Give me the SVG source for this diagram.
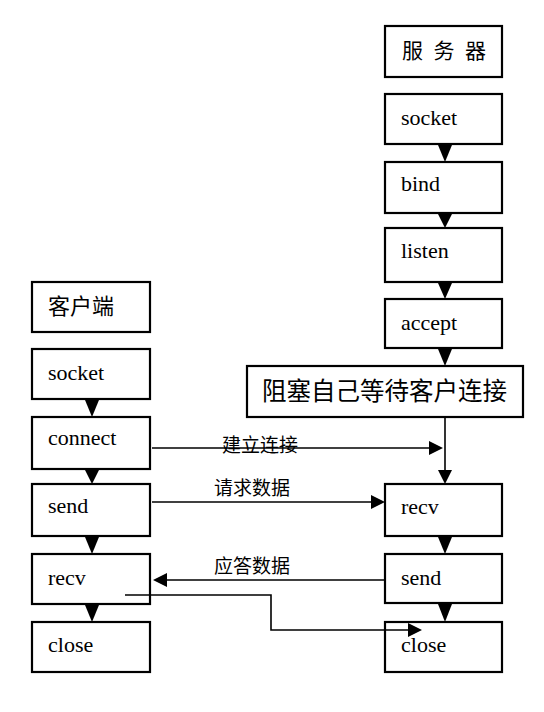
<svg xmlns="http://www.w3.org/2000/svg" width="544" height="712" viewBox="0 0 544 712">
<style>
.box{fill:#fff;stroke:#000;stroke-width:2.2}
.t{font-family:"Liberation Serif",serif;font-size:22px;fill:#000}
.c{font-family:"Noto Sans CJK SC",sans-serif;font-size:21px;fill:#000}
.lbl{font-family:"Noto Sans CJK SC",sans-serif;font-size:19px;fill:#000}
.ln{fill:none;stroke:#000;stroke-width:1.6}
.ah{fill:#000}
</style>
<rect width="544" height="712" fill="#fff"/>
<g id="server"><rect class="box" x="385" y="26" width="117" height="51"/><text class="c" x="402" y="58" textLength="84">服 务 器</text></g>
<g id="s_socket"><rect class="box" x="385" y="94" width="117" height="50"/><text class="t" x="401" y="125">socket</text></g>
<g id="s_bind"><rect class="box" x="385" y="162" width="117" height="51"/><text class="t" x="401" y="191">bind</text></g>
<g id="s_listen"><rect class="box" x="385" y="228" width="117" height="54"/><text class="t" x="401" y="258">listen</text></g>
<g id="s_accept"><rect class="box" x="385" y="299" width="117" height="49"/><text class="t" x="401" y="330">accept</text></g>
<g id="s_block"><rect class="box" x="247" y="366" width="276" height="51"/><text class="c" x="262" y="400" style="font-size:24.5px">阻塞自己等待客户连接</text></g>
<g id="s_recv"><rect class="box" x="385" y="484" width="117" height="52"/><text class="t" x="401" y="514">recv</text></g>
<g id="s_send"><rect class="box" x="385" y="554" width="117" height="49"/><text class="t" x="401" y="585">send</text></g>
<g id="s_close"><rect class="box" x="385" y="622" width="117" height="50"/><text class="t" x="401" y="652">close</text></g>
<g id="client"><rect class="box" x="32" y="282" width="118" height="50"/><text class="c" x="48" y="314" style="font-size:22px">客户端</text></g>
<g id="c_socket"><rect class="box" x="32" y="349" width="118" height="50"/><text class="t" x="48" y="380">socket</text></g>
<g id="c_connect"><rect class="box" x="32" y="417" width="118" height="52"/><text class="t" x="48" y="445">connect</text></g>
<g id="c_send"><rect class="box" x="32" y="484" width="118" height="52"/><text class="t" x="48" y="513">send</text></g>
<g id="c_recv"><rect class="box" x="32" y="554" width="118" height="50"/><text class="t" x="48" y="585">recv</text></g>
<g id="c_close"><rect class="box" x="32" y="622" width="118" height="50"/><text class="t" x="48" y="652">close</text></g>
<g id="connectors">
<path class="ln" d="M445 417 V470"/>
<path class="ah" d="M438 470 L452 470 L445 484 Z"/>
<path class="ln" d="M152 448 H430"/>
<path class="ah" d="M429 441 L443 448 L429 455 Z"/>
<path class="ln" d="M152 502 H372"/>
<path class="ah" d="M371 495 L385 502 L371 509 Z"/>
<path class="ln" d="M385 580 H166"/>
<path class="ah" d="M167 573 L153 580 L167 587 Z"/>
<path class="ln" d="M125 595 H271 V630 H410"/>
<path class="ah" d="M408 623 L422 630 L408 637 Z"/>
<path class="ah" d="M438 145 L452 145 L445 162 Z"/>
<path class="ah" d="M438 214 L452 214 L445 228 Z"/>
<path class="ah" d="M438 283 L452 283 L445 299 Z"/>
<path class="ah" d="M438 349 L452 349 L445 366 Z"/>
<path class="ah" d="M438 537 L452 537 L445 554 Z"/>
<path class="ah" d="M438 604 L452 604 L445 622 Z"/>
<path class="ah" d="M85 400 L99 400 L92 417 Z"/>
<path class="ah" d="M85 470 L99 470 L92 484 Z"/>
<path class="ah" d="M85 537 L99 537 L92 554 Z"/>
<path class="ah" d="M85 605 L99 605 L92 622 Z"/>
<text class="lbl" x="222" y="452">建立连接</text>
<text class="lbl" x="214" y="495">请求数据</text>
<text class="lbl" x="214" y="573">应答数据</text>
</g>
</svg>
